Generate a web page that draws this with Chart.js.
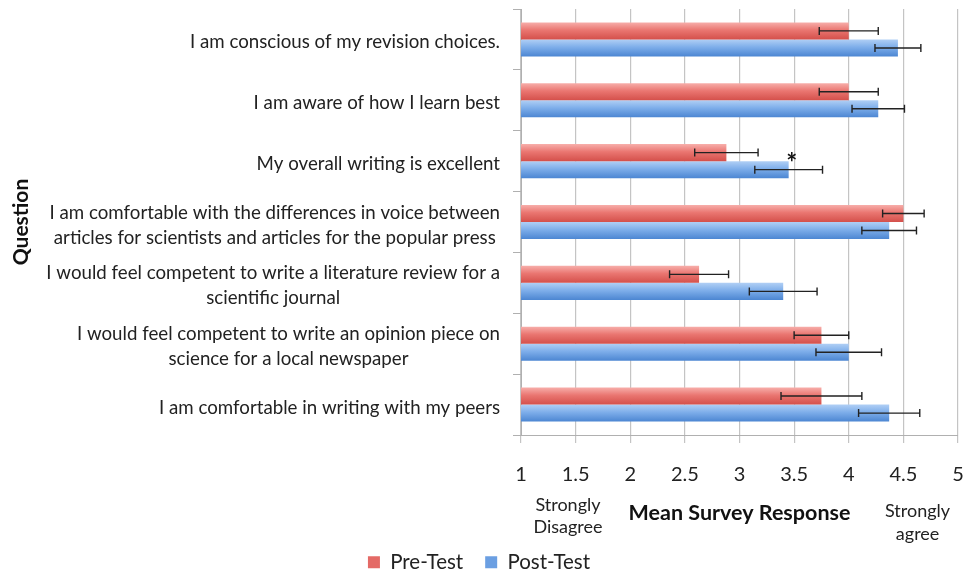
<!DOCTYPE html>
<html>
<head>
<meta charset="utf-8">
<script src="https://cdn.jsdelivr.net/npm/chart.js@4.4.1/dist/chart.umd.min.js"></script>
<style>
  html, body { margin: 0; padding: 0; background: #fff; }
  #wrap { width: 966px; height: 573px; }
</style>
</head>
<body>
<div id="wrap"><canvas id="survey-chart"></canvas></div>
<script>
// survey questions, top to bottom
var questions = [
    ["I am conscious of my revision choices."],
    ["I am aware of how I learn best"],
    ["My overall writing is excellent"],
    ["I am comfortable with the differences in voice between", "articles for scientists and articles for the popular press"],
    ["I would feel competent to write a literature review for a", "scientific journal"],
    ["I would feel competent to write an opinion piece on", "science for a local newspaper"],
    ["I am comfortable in writing with my peers"]
];
var preTest  = [4.00, 4.00, 2.88, 4.50, 2.63, 3.75, 3.75];
var preErr   = [0.27, 0.27, 0.29, 0.19, 0.27, 0.25, 0.37];
var postTest = [4.45, 4.27, 3.45, 4.37, 3.40, 4.00, 4.37];
var postErr  = [0.21, 0.24, 0.31, 0.25, 0.31, 0.30, 0.28];
var xTicks   = [1, 1.5, 2, 2.5, 3, 3.5, 4, 4.5, 5];
var starred  = [2]; // post-test significant

var catPct = 0.56;
var fontFam = 'Lato, "Open Sans", sans-serif';

// vertical gradient for each bar, light on top, dark at the bottom
function barGradient(light, mid, dark, side) {
    return function (c) {
        if (c.type !== 'data') return mid;
        var chart = c.chart, y = chart.scales.y;
        if (!y || !chart.chartArea) return mid;
        var centre = y.getPixelForValue(c.dataIndex);
        var step = Math.abs(y.getPixelForValue(1) - y.getPixelForValue(0));
        var t = step * catPct / 2;
        var top = side === 0 ? centre - t : centre;
        var g = chart.ctx.createLinearGradient(0, top, 0, top + t);
        g.addColorStop(0, light);
        g.addColorStop(0.45, mid);
        g.addColorStop(1, dark);
        return g;
    };
}

var errorBars = {
    id: 'errorBars',
    afterDatasetsDraw: function (chart) {
        var ctx = chart.ctx, x = chart.scales.x;
        ctx.save();
        ctx.strokeStyle = '#222';
        ctx.lineWidth = 1.4;
        [preErr, postErr].forEach(function (errs, di) {
            var meta = chart.getDatasetMeta(di);
            meta.data.forEach(function (bar, i) {
                var v = chart.data.datasets[di].data[i];
                var x0 = x.getPixelForValue(v - errs[i]);
                var x1 = x.getPixelForValue(v + errs[i]);
                var y = bar.y;
                ctx.beginPath();
                ctx.moveTo(x0, y); ctx.lineTo(x1, y);
                ctx.moveTo(x0, y - 4); ctx.lineTo(x0, y + 4);
                ctx.moveTo(x1, y - 4); ctx.lineTo(x1, y + 4);
                ctx.stroke();
            });
        });
        // significance mark
        var postMeta = chart.getDatasetMeta(1);
        ctx.fillStyle = '#111';
        ctx.font = 'bold 26px ' + fontFam;
        ctx.textAlign = 'center';
        ctx.textBaseline = 'alphabetic';
        starred.forEach(function (i) {
            var b = postMeta.data[i];
            ctx.fillText('*', b.x + 3, b.y - b.height / 2 + 11);
        });
        ctx.restore();
    }
};

// question labels: block right aligned, lines centred within block
var questionLabels = {
    id: 'questionLabels',
    afterDraw: function (chart) {
        var ctx = chart.ctx, y = chart.scales.y;
        var right = chart.chartArea.left - 21;
        var lh = 25;
        ctx.save();
        ctx.font = '18.7px ' + fontFam;
        ctx.fillStyle = '#222';
        ctx.textBaseline = 'middle';
        ctx.textAlign = 'center';
        questions.forEach(function (lines, i) {
            var w = 0;
            lines.forEach(function (l) { w = Math.max(w, ctx.measureText(l).width); });
            var cx = right - w / 2;
            var cy = y.getPixelForValue(i) + 3 - (lines.length - 1) * lh / 2;
            lines.forEach(function (l, k) { ctx.fillText(l, cx, cy + k * lh); });
        });

        // scale end notes under the x axis
        var x = chart.scales.x, b = chart.chartArea.bottom;
        ctx.font = '18px ' + fontFam;
        ctx.fillText('Strongly', x.getPixelForValue(1.43), b + 70);
        ctx.fillText('Disagree', x.getPixelForValue(1.43), b + 92);
        ctx.fillText('Strongly', x.getPixelForValue(4.63), b + 76);
        ctx.fillText('agree', x.getPixelForValue(4.63), b + 99);
        ctx.restore();
    }
};

// keep the legend strip a fixed height
var legendHeight = {
    id: 'legendHeight',
    afterInit: function (chart) {
        var lg = chart.legend;
        if (!lg) return;
        var fit = lg.fit;
        lg.fit = function () {
            fit.call(this);
            this.height = 43;
        };
    }
};

new Chart(document.getElementById('survey-chart'), {
    type: 'bar',
    data: {
        labels: questions,
        datasets: [
            {
                label: 'Pre-Test',
                data: preTest,
                backgroundColor: barGradient('#f7aeaa', '#ea7671', '#d4504b', 0),
                categoryPercentage: catPct,
                barPercentage: 1
            },
            {
                label: 'Post-Test',
                data: postTest,
                backgroundColor: barGradient('#b0cff5', '#7eaeea', '#4c86d2', 1),
                categoryPercentage: catPct,
                barPercentage: 1
            }
        ]
    },
    options: {
        indexAxis: 'y',
        responsive: true,
        maintainAspectRatio: false,
        animation: false,
        layout: { padding: { top: 9, right: 8, left: 0, bottom: 0 } },
        scales: {
            x: {
                min: 1,
                max: 5,
                afterBuildTicks: function (s) {
                    s.ticks = xTicks.map(function (v) { return { value: v }; });
                },
                afterFit: function (s) { s.height = 95; s.paddingRight = 0; s.paddingLeft = 0; },
                grid: { color: '#c4c4c4', tickLength: 8, lineWidth: 1.2 },
                border: { color: '#b0b0b0' },
                ticks: {
                    padding: 20,
                    color: '#222',
                    font: { family: fontFam, size: 20 },
                    callback: function (v) { return String(v); }
                },
                title: {
                    display: true,
                    text: 'Mean Survey Response',
                    color: '#111',
                    font: { family: fontFam, size: 21.5, weight: 'bold' },
                    padding: { top: 0, bottom: 4 }
                }
            },
            y: {
                afterFit: function (s) { s.width = 521; },
                grid: { display: true, drawOnChartArea: false, tickLength: 8, color: '#b0b0b0', offset: true },
                border: { color: '#b0b0b0' },
                ticks: { display: false },
                title: {
                    display: true,
                    text: 'Question',
                    color: '#111',
                    font: { family: fontFam, size: 21, weight: 'bold' },
                    padding: { top: 9, bottom: 0 }
                }
            }
        },
        plugins: {
            legend: {
                position: 'bottom',
                labels: {
                    color: '#222',
                    boxWidth: 12,
                    boxHeight: 12,
                    padding: 22,
                    font: { family: fontFam, size: 20.5 },
                    generateLabels: function (chart) {
                        var solid = ['#e46a66', '#6b9fe2'];
                        return chart.data.datasets.map(function (d, i) {
                            return { text: d.label, fillStyle: solid[i], strokeStyle: solid[i], lineWidth: 0, datasetIndex: i, fontColor: '#222' };
                        });
                    }
                }
            },
            tooltip: { enabled: false }
        }
    },
    plugins: [errorBars, questionLabels, legendHeight]
});
</script>
</body>
</html>
